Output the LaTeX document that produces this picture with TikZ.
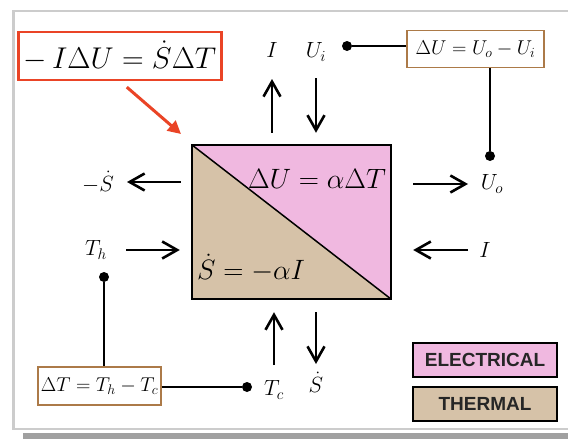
\documentclass[tikz,border=0pt]{standalone}
\usepackage{fix-cm}
\usepackage{fontspec}
\setsansfont{Liberation Sans}
\usepackage{xcolor}
\usetikzlibrary{arrows.meta}

\definecolor{elecpink}{RGB}{240,184,224}
\definecolor{thermtan}{RGB}{214,194,168}
\definecolor{boxbrown}{RGB}{172,122,72}
\definecolor{callred}{RGB}{234,68,38}
\definecolor{framegray}{RGB}{204,204,204}
\definecolor{shadowgray}{RGB}{160,160,160}

\begin{document}
\begin{tikzpicture}[x=1pt, y=-1pt,
        every node/.style={inner sep=0pt},
        lab/.style={font=\fontsize{22}{26}\selectfont},
        big/.style={font=\fontsize{28}{34}\selectfont},
        flow/.style={line width=2.6pt, -{Straight Barb[length=15pt, width=17pt]}},
        wire/.style={line width=1.3pt},
        dot/.style={circle, fill, minimum size=10pt},
        defbox/.style={draw=boxbrown, line width=1.3pt, fill=white, minimum width=137pt, minimum height=37pt, font=\fontsize{20}{24}\selectfont},
        legend/.style={draw, line width=1.3pt, minimum width=144pt, minimum height=34pt, text=black!85, font=\sffamily\bfseries\fontsize{19}{22}\selectfont}
    ]
        \useasboundingbox (0,0) rectangle (568,439);
        \fill[white] (0,0) rectangle (568,439);
        \draw[framegray, line width=2.5pt] (13.5,11) rectangle (620,429);
        \fill[shadowgray] (23,432.5) rectangle (620,445);

        \node[minimum width=199pt, minimum height=154pt] (cell) at (291.5,222) {};
        \fill[elecpink] (cell.north west) -- (cell.north east) -- (cell.south east) -- cycle;
        \fill[thermtan] (cell.north west) -- (cell.south west) -- (cell.south east) -- cycle;
        \draw[line width=1.5pt] (cell.north west) -- (cell.south east);
        \draw[line width=1.8pt] (cell.north west) rectangle (cell.south east);
        \node[big] (elec)  at (317,179) {$\Delta U = \alpha\Delta T$};
        \node[big] (therm) at (251,268) {$\dot S = -\alpha I$};

        \node[draw=callred, line width=2.5pt, fill=white, minimum width=203pt, minimum height=48pt, font=\fontsize{30}{36}\selectfont] (law) at (120,56) {$-\,I\Delta U = \dot S\Delta T$};
        \coordinate (redtip) at (181,134);
        \draw[callred, line width=3pt, -{Triangle[length=13pt, width=13pt]}, shorten <=9pt] (law.south) -- (redtip);

        \node[lab] (itop)   at (272,50)  {$I$};
        \node[lab] (uin)    at (316,52)  {$U_i$};
        \node[lab] (uout)   at (492,184) {$U_o$};
        \node[lab] (iright) at (485,250) {$I$};
        \node[lab] (sleft)  at (98,182)  {$-\dot S$};
        \node[lab] (thot)   at (96,250)  {$T_h$};
        \node[lab] (tcold)  at (274,390) {$T_c$};
        \node[lab] (sbot)   at (316,382) {$\dot S$};

        \draw[flow, shorten <=12pt, shorten >=29pt] (cell.north -| itop.center) -- (itop.center);
        \draw[flow, shorten <=26pt, shorten >=12pt] (uin.center) -- (cell.north -| uin.center);
        \draw[flow, shorten <=22pt, shorten >=24pt] (cell.east |- uout.center) -- (uout.center);
        \draw[flow, shorten <=17pt, shorten >=22pt] (iright.center) -- (cell.east |- iright.center);
        \draw[flow, shorten <=11pt, shorten >=29pt] (cell.west |- sleft.center) -- (sleft.center);
        \draw[flow, shorten <=30pt, shorten >=12pt] (thot.center) -- (cell.west |- thot.center);
        \draw[flow, shorten <=25pt, shorten >=13pt] (tcold.center) -- (cell.south -| tcold.center);
        \draw[flow, shorten <=13pt, shorten >=18pt] (cell.south -| sbot.center) -- (sbot.center);

        \node[defbox] (dubox) at (475.5,49) {$\Delta U = U_o - U_i$};
        \node[defbox, minimum width=123pt, minimum height=38pt] (dtbox) at (99.5,386) {$\Delta T = T_h - T_c$};
        \node[dot] (uidot) at (347,46)  {};
        \node[dot] (uodot) at (490,156) {};
        \node[dot] (thdot) at (104,277) {};
        \node[dot] (tcdot) at (247,387) {};
        \draw[wire] (uidot) -- (uidot -| dubox.west);
        \draw[wire] (dubox.south -| uodot) -- (uodot);
        \draw[wire] (thdot) -- (thdot |- dtbox.north);
        \draw[wire] (dtbox.east |- tcdot) -- (tcdot);

        \node[legend, fill=elecpink] (elecleg)  at (485,360) {ELECTRICAL};
        \node[legend, fill=thermtan] (thermleg) at (485,404) {THERMAL};
    \end{tikzpicture}
\end{document}
